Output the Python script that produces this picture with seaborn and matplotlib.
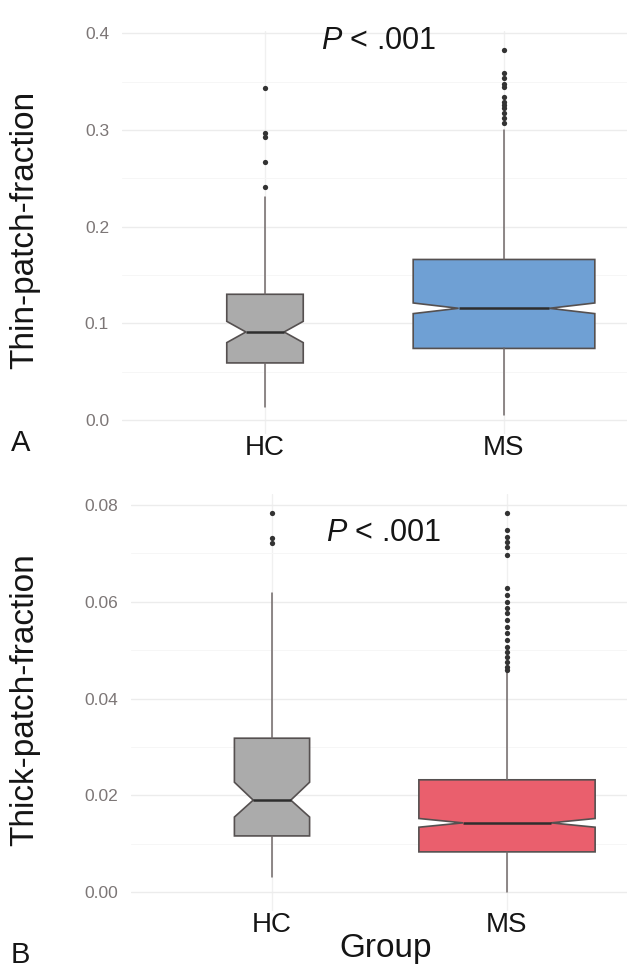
import matplotlib
matplotlib.use("Agg")
import matplotlib.pyplot as plt
from matplotlib.ticker import MultipleLocator, FixedLocator
import pandas as pd
import seaborn as sns

# ---- data -------------------------------------------------------------
groups = ["HC", "MS"]

# Thin-patch-fraction box statistics
thin_whislo = [0.013, 0.005]
thin_q1 = [0.059, 0.074]
thin_med = [0.091, 0.1155]
thin_q3 = [0.130, 0.166]
thin_whishi = [0.231, 0.300]
thin_cilo = [0.080, 0.110]
thin_cihi = [0.102, 0.121]
thin_out_hc = [0.343, 0.297, 0.293, 0.267, 0.241]
thin_out_ms = [0.383, 0.359, 0.354, 0.348, 0.344, 0.334, 0.329, 0.326,
               0.323, 0.317, 0.312, 0.307]

# Thick-patch-fraction box statistics
thick_whislo = [0.0031, 0.0000]
thick_q1 = [0.0116, 0.0083]
thick_med = [0.0190, 0.0143]
thick_q3 = [0.0318, 0.0232]
thick_whishi = [0.0618, 0.0455]
thick_cilo = [0.0155, 0.0134]
thick_cihi = [0.0227, 0.0152]
thick_out_hc = [0.0783, 0.0732, 0.0721]
thick_out_ms = [0.0784, 0.0748, 0.0734, 0.0724, 0.0713, 0.0697, 0.0628,
                0.0614, 0.0600, 0.0587, 0.0577, 0.0562, 0.0548, 0.0535,
                0.0521, 0.0506, 0.0496, 0.0486, 0.0475, 0.0465, 0.0459]

p_label = "$P$ < .001"

# ---- style ------------------------------------------------------------
sns.set_theme(style="whitegrid")
plt.rcParams["font.family"] = ["Liberation Sans", "DejaVu Sans"]
plt.rcParams["mathtext.fontset"] = "custom"
plt.rcParams["mathtext.it"] = "Liberation Sans:italic"
plt.rcParams["mathtext.rm"] = "Liberation Sans"

W, H = 627, 969
fig = plt.figure(figsize=(W / 100, H / 100), dpi=100)
fig.patch.set_facecolor("white")


def px_axes(left, right, top, bottom):
    return fig.add_axes([left / W, (H - bottom) / H,
                         (right - left) / W, (bottom - top) / H])


def draw_panel(ax, whislo, q1, med, q3, whishi, cilo, cihi,
               out_hc, out_ms, widths, colors, ylim, major, minor,
               fmt, ytext):
    stats = []
    for i, g in enumerate(groups):
        stats.append(dict(label=g, whislo=whislo[i], q1=q1[i], med=med[i],
                          q3=q3[i], whishi=whishi[i], cilo=cilo[i],
                          cihi=cihi[i], fliers=[]))
    bp = ax.bxp(stats, positions=[0, 1], widths=widths, shownotches=True,
                showcaps=False, showfliers=False, patch_artist=True,
                boxprops=dict(edgecolor="#555050", linewidth=1.2),
                whiskerprops=dict(color="#706868", linewidth=1.1),
                medianprops=dict(color="#2e2e2e", linewidth=1.8),
                zorder=3)
    for patch, c in zip(bp["boxes"], colors):
        patch.set_facecolor(c)

    outliers = pd.DataFrame({
        "group": ["HC"] * len(out_hc) + ["MS"] * len(out_ms),
        "value": out_hc + out_ms,
    })
    sns.stripplot(data=outliers, x="group", y="value", order=groups,
                  jitter=False, color="#333333", size=3.8, linewidth=0,
                  ax=ax, zorder=4)

    ax.set_xlim(-0.6, 1.6)
    ax.set_ylim(*ylim)
    ax.xaxis.set_major_locator(FixedLocator([0, 1]))
    ax.set_xticklabels(groups, fontsize=20, color="#151515")
    ax.yaxis.set_major_locator(MultipleLocator(major))
    ax.yaxis.set_minor_locator(MultipleLocator(minor))
    ax.set_yticks([t for t in ax.get_yticks() if ylim[0] <= t <= ylim[1]])
    ax.set_yticklabels([fmt.format(t) for t in ax.get_yticks()],
                       fontsize=12.5, color="#7c7676")
    ax.tick_params(axis="both", which="both", length=0)
    ax.tick_params(axis="x", pad=1)
    ax.tick_params(axis="y", pad=9)
    ax.set_xlabel("")
    ax.set_ylabel("")
    for s in ax.spines.values():
        s.set_visible(False)
    ax.set_facecolor("white")
    ax.grid(which="major", axis="y", color="#ececec", linewidth=1.0)
    ax.grid(which="major", axis="x", color="#f0f0f0", linewidth=1.0)
    ax.grid(which="minor", axis="y", color="#f6f6f6", linewidth=0.7)
    ax.grid(which="minor", axis="x", visible=False)
    ax.set_axisbelow(True)
    ax.text(0.475, ytext, p_label, fontsize=22, color="#151515",
            ha="center", va="center", zorder=5)


# Panel A: thin-patch-fraction
ax1 = px_axes(121.6, 647.4, 31.3, 433.5)
draw_panel(ax1, thin_whislo, thin_q1, thin_med, thin_q3, thin_whishi,
           thin_cilo, thin_cihi, thin_out_hc, thin_out_ms,
           widths=[0.32, 0.76], colors=["#ababab", "#6fa0d4"],
           ylim=(-0.014, 0.402), major=0.1, minor=0.05, fmt="{:.1f}",
           ytext=0.392)

# Panel B: thick-patch-fraction
ax2 = px_axes(131.0, 648.0, 494.4, 910.9)
draw_panel(ax2, thick_whislo, thick_q1, thick_med, thick_q3, thick_whishi,
           thick_cilo, thick_cihi, thick_out_hc, thick_out_ms,
           widths=[0.32, 0.75], colors=["#ababab", "#ea5f6d"],
           ylim=(-0.0039, 0.0822), major=0.02, minor=0.01, fmt="{:.2f}",
           ytext=0.0742)

# Axis titles and panel letters
fig.text(25 / W, 1 - 230 / H, "Thin-patch-fraction", rotation=90,
         fontsize=24, color="#151515", ha="center", va="center")
fig.text(25 / W, 1 - 700 / H, "Thick-patch-fraction", rotation=90,
         fontsize=24, color="#151515", ha="center", va="center")
fig.text(386 / W, 1 - 949 / H, "Group", fontsize=24, color="#151515",
         ha="center", va="center")
fig.text(11 / W, 1 - 443 / H, "A", fontsize=21, color="#151515",
         ha="left", va="center")
fig.text(11 / W, 1 - 955 / H, "B", fontsize=21, color="#151515",
         ha="left", va="center")

fig.savefig("out.png", dpi=100, facecolor="white")
